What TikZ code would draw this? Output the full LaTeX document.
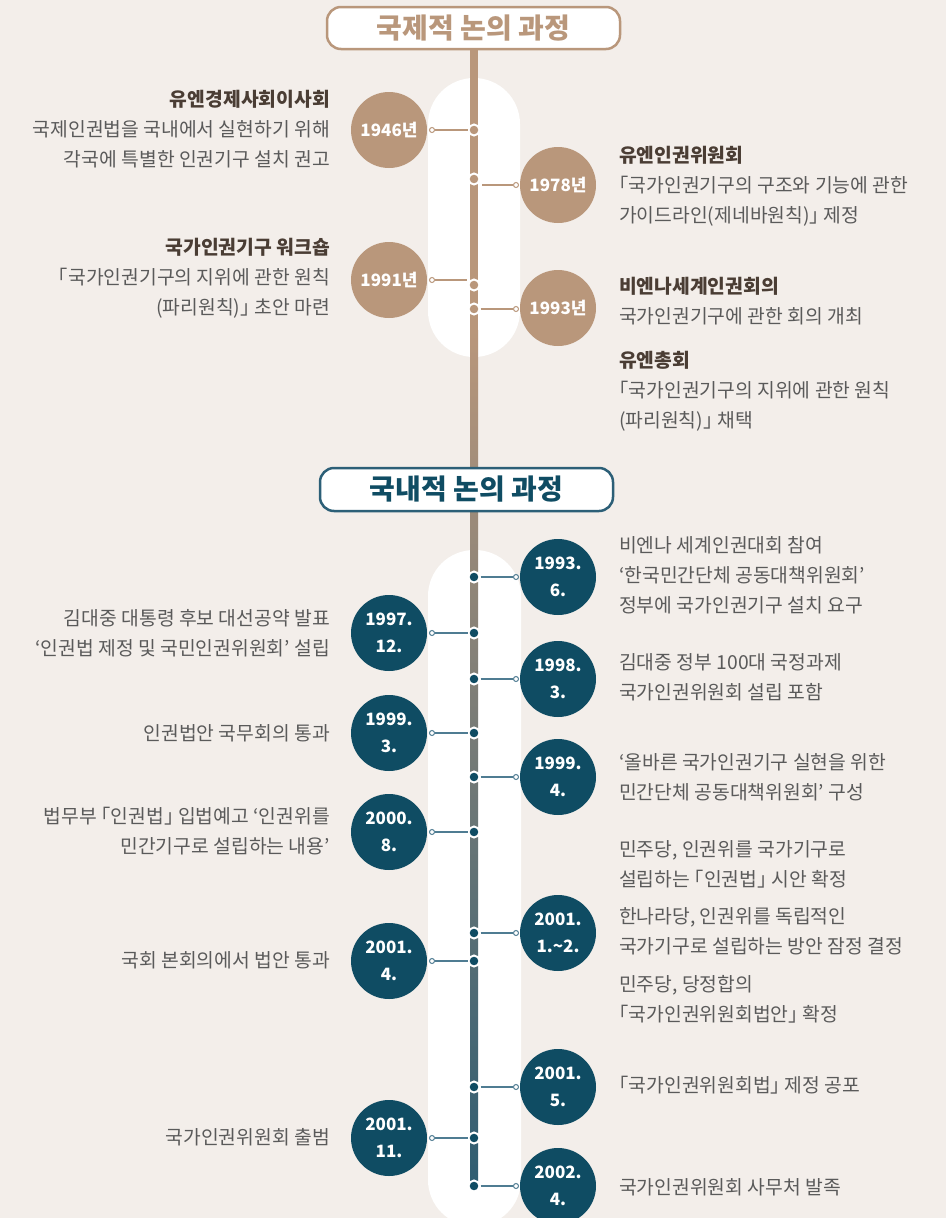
\documentclass[tikz,border=0pt]{standalone}
\usepackage{fontspec}
\setmainfont{Noto Sans CJK KR}
\newfontfamily\brkfont{Noto Sans CJK KR}[RawFeature=+halt]
\newcommand\lbk{{\brkfont 「}}
\newcommand\rbk{{\brkfont 」}}
\definecolor{bgc}{HTML}{F3EEEA}
\definecolor{tanc}{HTML}{B9977B}
\definecolor{tealc}{HTML}{0F4C63}
\definecolor{tealline}{HTML}{2F5D72}
\definecolor{conteal}{HTML}{4F7C92}
\definecolor{hdrteal}{HTML}{2C5F77}
\definecolor{txt}{HTML}{5A5A5A}
\definecolor{ttl}{HTML}{4A3D34}
\newcommand\ttlline[1]{\textbf{\textcolor{ttl}{#1}}}
\tikzset{
 hdr/.style={draw, line width=2.5pt, fill=white, rounded corners=14pt, minimum height=42pt, minimum width=293pt, inner sep=0, font=\bfseries\fontsize{28}{30}\selectfont},
 yearcirc/.style={circle, minimum size=76pt, inner sep=0, text=white, align=center, font=\bfseries\fontsize{17}{27}\selectfont},
 tanyear/.style={yearcirc, fill=tanc},
 tealyear/.style={yearcirc, fill=tealc},
 dotbase/.style={circle, draw=white, line width=2pt, minimum size=11pt, inner sep=0},
 tandot/.style={dotbase, fill=tanc},
 tealdot/.style={dotbase, fill=tealc},
 openend/.style={circle, fill=white, line width=1pt, minimum size=5pt, inner sep=0},
 tanend/.style={openend, draw=tanc},
 tealend/.style={openend, draw=conteal},
 tancon/.style={draw=tanc, line width=1.5pt},
 tealcon/.style={draw=conteal, line width=1.5pt},
 ltext/.style={anchor=base east, align=right, inner sep=0, text=txt, font=\fontsize{19.3}{29.6}\selectfont},
 rtext/.style={anchor=base west, align=left, inner sep=0, text=txt, font=\fontsize{19.3}{29.6}\selectfont},
}
\begin{document}
\begin{tikzpicture}[x=1pt,y=-1pt]
\fill[bgc] (0,0) rectangle (946,1218);
\useasboundingbox (0,0) rectangle (946,1218);
\begin{scope}
\clip (0,0) rectangle (946,1218);
% white pills
\fill[white, rounded corners=46pt] (428,78) rectangle (520,357);
\fill[white, rounded corners=46pt] (428,550) rectangle (521,1226);
% main line
\fill[tanc] (470,48) rectangle (478,330);
\shade[top color=tanc, bottom color=tealline] (470,330) rectangle (478,1186);
\end{scope}

% headers
\node[hdr, draw=tanc, text=tanc] (h1) at (473.5,28) {국제적 논의 과정};
\node[hdr, draw=hdrteal, text=tealc, minimum height=43pt] (h2) at (466.5,489.5) {국내적 논의 과정};

% ---------- international ----------
\node[tanyear] (c1946) at (389,130) {1946년};
\node[tanyear] (c1978) at (558,185) {1978년};
\node[tanyear] (c1991) at (389,280) {1991년};
\node[tanyear] (c1993) at (558,308) {1993년};

\node[tandot] (d1946) at (474,130) {};
\node[tandot] (d1978) at (474,179) {};
\node[tandot] (d1991) at (474,285) {};
\node[tandot] (d1993) at (474,309) {};

\node[tanend] (s1946) at (432,130) {};
\node[tanend] (s1978) at (516,185) {};
\node[tanend] (s1991) at (432,280) {};
\node[tanend] (s1993) at (516,309) {};
\coordinate (e1978) at (482,185);
\coordinate (e1991) at (467,280);

\draw[tancon] (s1946) -- (d1946);
\draw[tancon] (e1978) -- (s1978);
\draw[tancon] (s1991) -- (e1991);
\draw[tancon] (d1993) -- (s1993);

\node[ltext] (t1946) at (330,166) {\ttlline{유엔경제사회이사회}\\국제인권법을 국내에서 실현하기 위해\\각국에 특별한 인권기구 설치 권고};
\node[ltext] (t1991) at (330,314) {\ttlline{국가인권기구 워크숍}\\\lbk 국가인권기구의 지위에 관한 원칙\\(파리원칙)\rbk\ 초안 마련};
\node[rtext] (t1978) at (619,222) {\ttlline{유엔인권위원회}\\\lbk 국가인권기구의 구조와 기능에 관한\\가이드라인(제네바원칙)\rbk\ 제정};
\node[rtext] (t1993a) at (619,323) {\ttlline{비엔나세계인권회의}\\국가인권기구에 관한 회의 개최};
\node[rtext] (t1993b) at (619,427) {\ttlline{유엔총회}\\\lbk 국가인권기구의 지위에 관한 원칙\\(파리원칙)\rbk\ 채택};

% ---------- domestic ----------
\foreach \y/\lab in {633/{1997.\\12.}, 733/{1999.\\3.}, 832/{2000.\\8.}, 961/{2001.\\4.}, 1138/{2001.\\11.}}{
  \node[tealyear] (cL\y) at (389,\y) {\lab};
  \node[tealdot] (dL\y) at (474,\y) {};
  \node[tealend] (sL\y) at (432,\y) {};
  \draw[tealcon] (sL\y) -- (dL\y);
}
\foreach \y/\lab in {577/{1993.\\6.}, 679/{1998.\\3.}, 777/{1999.\\4.}, 933/{2001.\\1.\textasciitilde2.}, 1087/{2001.\\5.}, 1186/{2002.\\4.}}{
  \node[tealyear] (cR\y) at (558,\y) {\lab};
  \node[tealdot] (dR\y) at (474,\y) {};
  \node[tealend] (sR\y) at (516,\y) {};
  \draw[tealcon] (dR\y) -- (sR\y);
}

\node[rtext] (tR1) at (619,612) {비엔나 세계인권대회 참여\\‘한국민간단체 공동대책위원회’\\정부에 국가인권기구 설치 요구};
\node[rtext] (tR2) at (619,699) {김대중 정부 100대 국정과제\\국가인권위원회 설립 포함};
\node[rtext] (tR3) at (619,799) {‘올바른 국가인권기구 실현을 위한\\민간단체 공동대책위원회’ 구성};
\node[rtext] (tR4) at (619,886) {민주당, 인권위를 국가기구로\\설립하는 \lbk 인권법\rbk\ 시안 확정};
\node[rtext] (tR5) at (619,953) {한나라당, 인권위를 독립적인\\국가기구로 설립하는 방안 잠정 결정};
\node[rtext] (tR6) at (619,1021) {민주당, 당정합의\\\lbk 국가인권위원회법안\rbk\ 확정};
\node[rtext] (tR7) at (619,1092) {\lbk 국가인권위원회법\rbk\ 제정 공포};
\node[rtext] (tR8) at (619,1194) {국가인권위원회 사무처 발족};

\node[ltext] (tL1) at (330,655) {김대중 대통령 후보 대선공약 발표\\‘인권법 제정 및 국민인권위원회’ 설립};
\node[ltext] (tL2) at (330,740) {인권법안 국무회의 통과};
\node[ltext] (tL3) at (330,853) {법무부 \lbk 인권법\rbk\ 입법예고 ‘인권위를\\민간기구로 설립하는 내용’};
\node[ltext] (tL4) at (330,967) {국회 본회의에서 법안 통과};
\node[ltext] (tL5) at (330,1144) {국가인권위원회 출범};
\end{tikzpicture}
\end{document}
